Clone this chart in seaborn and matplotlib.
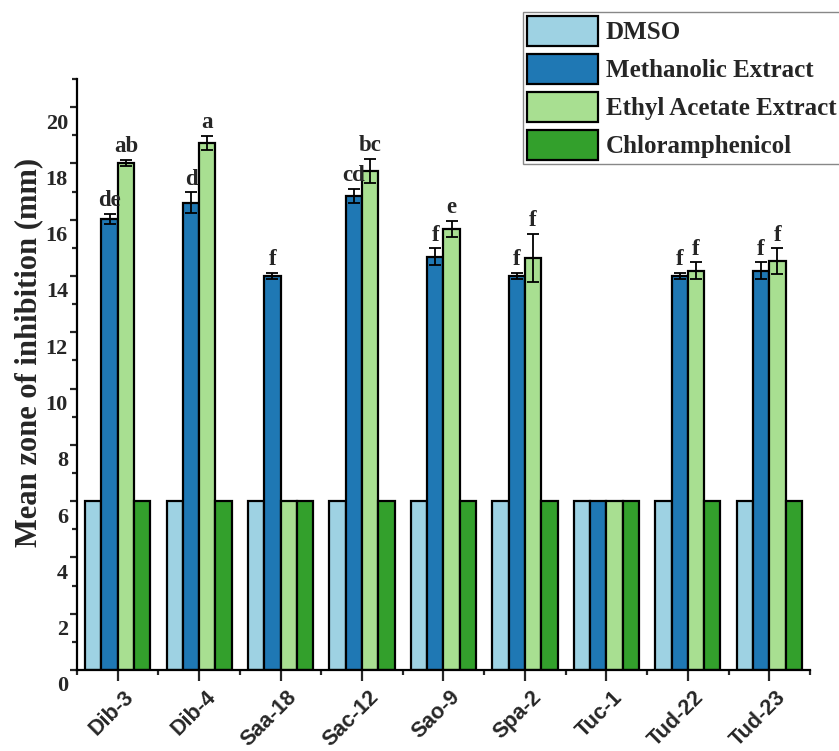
import matplotlib
matplotlib.use("Agg")
import matplotlib.pyplot as plt
from matplotlib.transforms import ScaledTranslation
from matplotlib.patches import Patch
from matplotlib.ticker import MultipleLocator
import numpy as np
import pandas as pd
import seaborn as sns

# Isolates and treatments
isolates = ["Dib-3", "Dib-4", "Saa-18", "Sac-12", "Sao-9", "Spa-2", "Tuc-1", "Tud-22", "Tud-23"]
treatments = ["DMSO", "Methanolic Extract", "Ethyl Acetate Extract", "Chloramphenicol"]

# Mean zone of inhibition (mm)
dmso = [6, 6, 6, 6, 6, 6, 6, 6, 6]
methanolic = [16.03, 16.6, 14.0, 16.84, 14.68, 14.0, 6, 14.0, 14.18]
ethyl_acetate = [18.02, 18.73, 6, 17.73, 15.67, 14.64, 6, 14.18, 14.53]
chloramphenicol = [6, 6, 6, 6, 6, 6, 6, 6, 6]

# Standard deviations
methanolic_sd = [0.18, 0.37, 0.12, 0.25, 0.3, 0.12, 0, 0.1, 0.3]
ethyl_acetate_sd = [0.1, 0.24, 0, 0.43, 0.3, 0.85, 0, 0.3, 0.45]

# Significance letters
methanolic_letters = ["de", "d", "f", "cd", "f", "f", "", "f", "f"]
ethyl_acetate_letters = ["ab", "a", "", "bc", "e", "f", "", "f", "f"]

colors = ["#9ed2e3", "#1f78b4", "#a8df91", "#33a02c"]

df = pd.DataFrame({
    "Isolate": isolates * 4,
    "Treatment": np.repeat(treatments, len(isolates)),
    "Zone": dmso + methanolic + ethyl_acetate + chloramphenicol,
})

sns.set_style("white")
plt.rcParams["font.family"] = ["Liberation Serif", "DejaVu Serif"]

fig = plt.figure(figsize=(8.39, 7.51), dpi=100)
ax = fig.add_axes([0.0918, 0.1079, 0.8736, 0.7869])

sns.barplot(data=df, x="Isolate", y="Zone", hue="Treatment", order=isolates,
            hue_order=treatments, palette=colors, errorbar=None, width=0.8,
            edgecolor="black", linewidth=1.6, saturation=1, ax=ax, legend=False)

# Error bars and letters on the extract bars
for cont, sds, letters in [(ax.containers[1], methanolic_sd, methanolic_letters),
                           (ax.containers[2], ethyl_acetate_sd, ethyl_acetate_letters)]:
    for bar, sd, lab in zip(cont, sds, letters):
        xc = bar.get_x() + bar.get_width() / 2
        h = bar.get_height()
        if sd > 0:
            ax.errorbar(xc, h, yerr=sd, color="black", elinewidth=1.3,
                        capsize=4.5, capthick=1.3, zorder=5)
        if lab:
            ax.annotate(lab, (xc, h + sd), xytext=(0, 2), textcoords="offset points",
                        ha="center", va="bottom", fontsize=16.5, fontweight="bold")

ax.set_xlim(-0.5, len(isolates) - 0.5)
ax.set_ylim(0, 21)
ax.yaxis.set_major_locator(MultipleLocator(2))
ax.yaxis.set_minor_locator(MultipleLocator(1))
ax.xaxis.set_minor_locator(MultipleLocator(1, offset=0.5))

for side in ["top", "right"]:
    ax.spines[side].set_visible(False)
for side in ["left", "bottom"]:
    ax.spines[side].set_linewidth(1.6)
    ax.spines[side].set_color("black")

ax.tick_params(axis="y", which="major", direction="out", length=5, width=1.6,
               pad=1.5, left=True)
ax.tick_params(axis="y", which="minor", direction="out", length=3.5, width=1.6, left=True)
ax.tick_params(axis="x", which="major", direction="out", length=8, width=1.6,
               pad=4, bottom=True)
ax.tick_params(axis="x", which="minor", direction="out", length=3.5, width=1.6, bottom=True)

ax.set_yticks(np.arange(0, 21, 2))
ax.set_yticklabels([str(v) for v in range(0, 21, 2)], fontweight="bold", fontsize=16)
yshift = ScaledTranslation(0, -0.14, fig.dpi_scale_trans)
for t in ax.get_yticklabels():
    t.set_transform(t.get_transform() + yshift)

ax.set_xticks(range(len(isolates)))
ax.set_xticklabels(isolates, rotation=45, ha="right", va="top", rotation_mode="anchor",
                   family=["Liberation Sans", "DejaVu Sans"], fontweight="bold", fontsize=15.5)
xshift = ScaledTranslation(0.06, 0, fig.dpi_scale_trans)
for t in ax.get_xticklabels():
    t.set_transform(t.get_transform() + xshift)

ax.set_xlabel("")
ax.set_ylabel("Mean zone of inhibition (mm)", fontsize=22, fontweight="bold")
ax.yaxis.set_label_coords(-0.0466, 0.538)

handles = [Patch(facecolor=c, edgecolor="black", linewidth=1.6, label=t)
           for c, t in zip(colors, treatments)]
leg = fig.legend(handles=handles, loc="upper left", bbox_to_anchor=(523 / 839, 1 - 12 / 751),
                 frameon=True, fancybox=False, edgecolor="#888888", framealpha=1,
                 prop={"family": "Liberation Serif", "weight": "bold", "size": 18},
                 handlelength=2.85, handleheight=1.5, handletextpad=0.3,
                 labelspacing=0.3, borderpad=0.15, borderaxespad=0)
leg.get_frame().set_linewidth(1.0)

fig.savefig("out.png", dpi=100)
